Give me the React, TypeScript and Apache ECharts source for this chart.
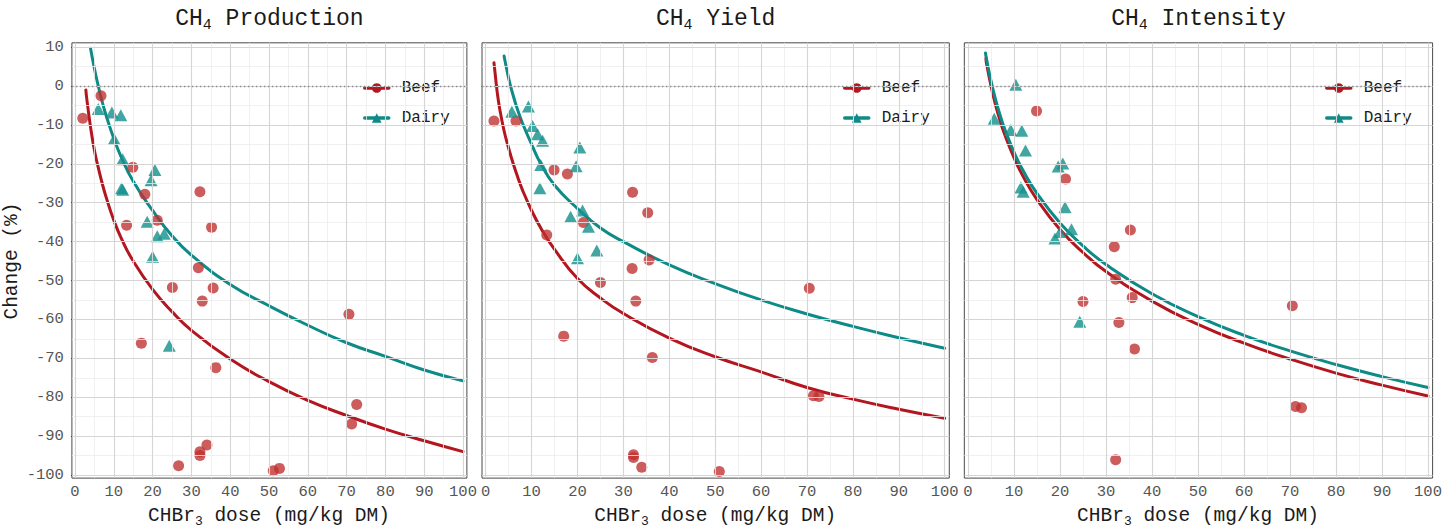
import React, { useEffect, useRef } from "react";
import * as echarts from "echarts";

// ---------- tick values ----------
const xMajorTicks = [0, 10, 20, 30, 40, 50, 60, 70, 80, 90, 100];
const xMinorTicks = [5, 15, 25, 35, 45, 55, 65, 75, 85, 95];
const yMajorTicks = [10, 0, -10, -20, -30, -40, -50, -60, -70, -80, -90, -100];
const yMinorTicks = [5, -5, -15, -25, -35, -45, -55, -65, -75, -85, -95];

const panelNames = ["Production", "Yield", "Intensity"];
const groupNames = ["Beef", "Dairy"];

// ---------- observed study points [dose, change %] ----------
const productionBeef: number[][] = [
  [2.0, -8.3], [6.7, -2.5], [14.9, -20.9], [18.0, -27.8], [32.2, -27.2], [13.3, -35.8],
  [21.2, -34.5], [35.2, -36.3], [31.8, -46.7], [25.1, -51.8], [35.6, -51.9], [32.8, -55.3],
  [70.6, -58.7], [17.1, -66.1], [36.3, -72.4], [72.6, -81.9], [71.3, -86.9], [34.0, -92.3],
  [32.2, -94.0], [32.2, -95.0], [26.7, -97.6], [51.1, -98.9], [52.7, -98.3],
];
const productionDairy: number[][] = [
  [6.0, -5.9], [9.5, -6.8], [11.8, -7.5], [10.1, -13.6], [12.3, -18.8], [12.0, -26.3],
  [12.3, -26.7], [20.6, -21.6], [19.6, -24.2], [18.6, -34.9], [21.2, -38.6], [23.0, -38.0],
  [20.0, -43.9], [24.3, -66.8],
];
const yieldBeef: number[][] = [
  [1.8, -9.0], [6.6, -9.0], [14.9, -21.6], [17.8, -22.6], [32.0, -27.3], [35.3, -32.6],
  [21.3, -35.1], [13.3, -38.3], [35.6, -44.7], [31.9, -46.9], [25.0, -50.5], [70.5, -52.0],
  [32.7, -55.3], [17.0, -64.3], [36.3, -69.8], [71.4, -79.6], [72.6, -79.8], [32.2, -94.8],
  [32.2, -95.5], [34.0, -98.0], [50.9, -99.1],
];
const yieldDairy: number[][] = [
  [5.7, -6.6], [9.3, -5.3], [10.2, -10.3], [11.3, -12.4], [12.4, -14.1], [12.0, -20.3],
  [11.8, -26.3], [20.5, -15.8], [19.7, -20.6], [18.5, -33.6], [21.1, -32.0], [22.4, -36.2],
  [24.2, -42.3], [20.0, -44.3],
];
const intensityBeef: number[][] = [
  [14.9, -6.4], [21.2, -23.9], [35.3, -37.0], [31.8, -41.3], [32.1, -49.7], [25.0, -55.4],
  [35.7, -54.4], [70.5, -56.5], [32.8, -60.8], [36.2, -67.6], [71.2, -82.4], [72.5, -82.7],
  [32.1, -96.1],
];
const intensityDairy: number[][] = [
  [10.4, 0.3], [5.7, -8.4], [9.3, -11.3], [11.7, -11.5], [12.5, -16.6], [11.5, -26.1],
  [12.0, -27.2], [20.6, -19.9], [19.6, -20.7], [21.1, -31.2], [20.0, -37.5], [18.9, -39.2],
  [22.5, -36.8], [24.3, -60.6],
];

// ---------- fitted curves ----------
const productionBeefCurveX = [2.8, 3, 4, 5, 6, 7, 8, 10, 12, 15, 20, 25, 30, 40, 50, 60, 70, 80, 90, 100];
const productionBeefCurveY = [-1, -3, -10.5, -16.5, -21, -25, -28.5, -34.5, -39.3, -45, -52.3, -58, -62.8, -70.2, -76, -80.8, -84.7, -88.2, -91.2, -94];
const productionDairyCurveX = [4, 5, 6, 7, 8, 10, 12, 15, 20, 25, 30, 40, 50, 60, 70, 80, 90, 100];
const productionDairyCurveY = [9.7, 4.5, 0, -4, -7.5, -13.5, -18.5, -24.5, -32, -38.5, -43.5, -51, -56.5, -61.5, -66, -69.5, -73, -75.8];

const yieldBeefCurveX = [1.8, 2, 2.5, 3, 4, 5, 6, 7, 8, 10, 12, 15, 20, 25, 30, 40, 50, 60, 70, 80, 90, 100];
const yieldBeefCurveY = [6, 3.8, -1.5, -5.5, -11.5, -16, -20, -23.5, -26.7, -32, -36.5, -42, -49.5, -54.5, -58.5, -64.8, -69.6, -73.5, -77.5, -80.5, -83.1, -85.4];
const yieldDairyCurveX = [4, 5, 6, 7, 8, 10, 12, 15, 20, 25, 30, 40, 50, 60, 70, 80, 90, 100];
const yieldDairyCurveY = [7.7, 2, -2.5, -6.3, -9.5, -15, -20, -25.5, -31.5, -36.5, -40, -46, -50.8, -55, -58.6, -61.8, -64.7, -67.4];

const intensityBeefCurveX = [3.9, 4, 5, 6, 7, 8, 10, 12, 15, 20, 25, 30, 40, 50, 60, 70, 80, 90, 100];
const intensityBeefCurveY = [7.1, 6, 0, -4.9, -9, -12.5, -18.4, -23.3, -29.2, -36.9, -42.8, -47.7, -55.3, -61.3, -66.1, -70.2, -73.8, -76.9, -79.7];
const intensityDairyCurveX = [3.8, 4, 5, 6, 7, 8, 10, 12, 15, 20, 25, 30, 40, 50, 60, 70, 80, 90, 100];
const intensityDairyCurveY = [8.5, 7.1, 1.3, -3.5, -7.6, -11.1, -17, -21.8, -27.6, -35.2, -41.1, -45.9, -53.4, -59.3, -64.1, -68.1, -71.6, -74.7, -77.5];

// ---------- styling / layout ----------
const FONT = "'Liberation Mono', 'DejaVu Sans Mono', monospace";
const BEEF_LINE = "#B3161F";
const DAIRY_LINE = "#0E8A87";
const BEEF_PT = "#BF2F2F";
const DAIRY_PT = "#17918D";

const layout = [
  { x0: 75, x100: 463, legendLeft: 353 },
  { x0: 485.7, x100: 944.7, legendLeft: 833 },
  { x0: 968, x100: 1428, legendLeft: 1315 },
];
const Y_TOP = 47.1; // value 10
const Y_BOT = 475; // value -100
const XMIN = -0.8, XMAX = 101, YMIN = -100.8, YMAX = 11.1;

const zip = (xs: number[], ys: number[]) => xs.map((x, k) => [x, ys[k]]);

function buildOption() {
  const panels = [
    { beef: productionBeef, dairy: productionDairy, bc: zip(productionBeefCurveX, productionBeefCurveY), dc: zip(productionDairyCurveX, productionDairyCurveY) },
    { beef: yieldBeef, dairy: yieldDairy, bc: zip(yieldBeefCurveX, yieldBeefCurveY), dc: zip(yieldDairyCurveX, yieldDairyCurveY) },
    { beef: intensityBeef, dairy: intensityDairy, bc: zip(intensityBeefCurveX, intensityBeefCurveY), dc: zip(intensityDairyCurveX, intensityDairyCurveY) },
  ];
  const sy = (Y_BOT - Y_TOP) / 110;
  const grid: any[] = [];
  const xAxis: any[] = [];
  const yAxis: any[] = [];
  const series: any[] = [];
  const legend: any[] = [];
  const graphic: any[] = [];

  const minor = { color: "#ececec", width: 0.8, type: "solid" };
  const major = { color: "#d5d5d5", width: 1.1, type: "solid" };
  const dotted = { color: "#8a8a8a", width: 1.4, type: [1.4, 2.6] };

  layout.forEach((L, i) => {
    const sx = (L.x100 - L.x0) / 100;
    const aLeft = L.x0 + XMIN * sx;
    const aTop = Y_TOP - (YMAX - 10) * sy;
    grid.push({
      left: aLeft, top: aTop, width: (XMAX - XMIN) * sx, height: (YMAX - YMIN) * sy,
      show: true, borderColor: "#4a4a4a", borderWidth: 1, backgroundColor: "rgba(0,0,0,0)",
      outerBoundsMode: "none",
    });
    grid.push({ left: L.x0, top: Y_TOP, width: L.x100 - L.x0, height: Y_BOT - Y_TOP, outerBoundsMode: "none" });
    const a = 2 * i, b = 2 * i + 1;
    xAxis.push({ type: "value", gridIndex: a, min: XMIN, max: XMAX, show: false });
    yAxis.push({ type: "value", gridIndex: a, min: YMIN, max: YMAX, show: false });
    xAxis.push({
      type: "value", gridIndex: b, min: 0, max: 100, interval: 10,
      offset: (-100 - YMIN) * sy,
      axisLine: { show: false },
      axisTick: { show: true, length: 4, lineStyle: { color: "#333", width: 1 } },
      axisLabel: { fontFamily: FONT, fontSize: 15.5, color: "#555555", margin: 6 },
      splitLine: { show: false },
      name: "{a|CHBr}{s|3}{a| dose (mg/kg DM)}",
      nameLocation: "middle", nameGap: 26,
      nameTextStyle: {
        fontFamily: FONT, fontSize: 19.5, color: "#1a1a1a",
        rich: {
          a: { fontFamily: FONT, fontSize: 19.5, color: "#1a1a1a", lineHeight: 24 },
          s: { fontFamily: FONT, fontSize: 13, color: "#1a1a1a", lineHeight: 12, verticalAlign: "bottom" },
        },
      },
    });
    yAxis.push({
      type: "value", gridIndex: b, min: -100, max: 10, interval: 10,
      offset: -XMIN * sx,
      axisLine: { show: false },
      axisTick: { show: true, length: 4, lineStyle: { color: "#333", width: 1 } },
      axisLabel: { show: i === 0, fontFamily: FONT, fontSize: 15.5, color: "#555555", margin: 8 },
      splitLine: { show: false },
      name: i === 0 ? "Change (%)" : "",
      nameLocation: "middle", nameRotate: 90, nameGap: 50,
      nameTextStyle: { fontFamily: FONT, fontSize: 19.5, color: "#1a1a1a" },
    });

    // panel grid lines and zero reference
    series.push({
      type: "line", data: [], xAxisIndex: a, yAxisIndex: a, silent: true, z: 1,
      markLine: {
        silent: true, symbol: ["none", "none"], label: { show: false },
        emphasis: { disabled: true },
        data: [
          ...xMinorTicks.map((v) => ({ xAxis: v, lineStyle: minor })),
          ...yMinorTicks.map((v) => ({ yAxis: v, lineStyle: minor })),
          ...xMajorTicks.map((v) => ({ xAxis: v, lineStyle: major })),
          ...yMajorTicks.map((v) => ({ yAxis: v, lineStyle: major })),
          { yAxis: 0, lineStyle: dotted },
        ],
      },
    });

    const P = panels[i];
    series.push({
      name: groupNames[0], type: "line", xAxisIndex: a, yAxisIndex: a, data: P.bc,
      showSymbol: false, symbol: "circle", smooth: 0.5, z: 3,
      lineStyle: { color: BEEF_LINE, width: 3, cap: "round", join: "round" },
      itemStyle: { color: BEEF_LINE }, silent: true,
    });
    series.push({
      name: groupNames[1], type: "line", xAxisIndex: a, yAxisIndex: a, data: P.dc,
      showSymbol: false, symbol: "triangle", smooth: 0.5, z: 3,
      lineStyle: { color: DAIRY_LINE, width: 3, cap: "round", join: "round" },
      itemStyle: { color: DAIRY_LINE }, silent: true,
    });
    series.push({
      name: groupNames[0] + " studies", type: "scatter", xAxisIndex: a, yAxisIndex: a, data: P.beef,
      symbol: "circle", symbolSize: 11, z: 4, clip: false,
      itemStyle: { color: BEEF_PT, opacity: 0.78 }, silent: true,
    });
    series.push({
      name: groupNames[1] + " studies", type: "scatter", xAxisIndex: a, yAxisIndex: a, data: P.dairy,
      symbol: "triangle", symbolSize: [13, 12], z: 4, clip: false,
      itemStyle: { color: DAIRY_PT, opacity: 0.82 }, silent: true,
    });

    legend.push({
      data: groupNames, orient: "vertical", left: L.legendLeft, top: 64,
      itemWidth: 24, itemHeight: 12, itemGap: 10, padding: [14, 10, 8, 10],
      backgroundColor: "#ffffff", selectedMode: false,
      lineStyle: { width: 3.5 },
      textStyle: { fontFamily: FONT, fontSize: 16, color: "#1a1a1a", lineHeight: 20, padding: [0, 0, 0, 8] },
    });

    const cx = aLeft + ((XMAX - XMIN) * sx) / 2;
    graphic.push({
      type: "text", x: cx, y: 19, silent: true,
      style: {
        text: "{a|CH}{s|4}{a| " + panelNames[i] + "}",
        align: "center", verticalAlign: "middle",
        rich: {
          a: { fontFamily: FONT, fontSize: 23, fill: "#1a1a1a", lineHeight: 28 },
          s: { fontFamily: FONT, fontSize: 15, fill: "#1a1a1a", lineHeight: 14, verticalAlign: "bottom" },
        },
      },
    });
  });

  return {
    animation: false,
    backgroundColor: "#ffffff",
    grid, xAxis, yAxis, series, legend, graphic,
  };
}

export default function App() {
  const ref = useRef<HTMLDivElement>(null);
  useEffect(() => {
    const chart = echarts.init(ref.current as HTMLDivElement, null, { renderer: "svg" });
    chart.setOption(buildOption() as any);
    return () => chart.dispose();
  }, []);
  return (
    <div
      ref={ref}
      style={{ position: "fixed", left: 0, top: 0, width: 1444, height: 529, background: "#fff" }}
    />
  );
}
